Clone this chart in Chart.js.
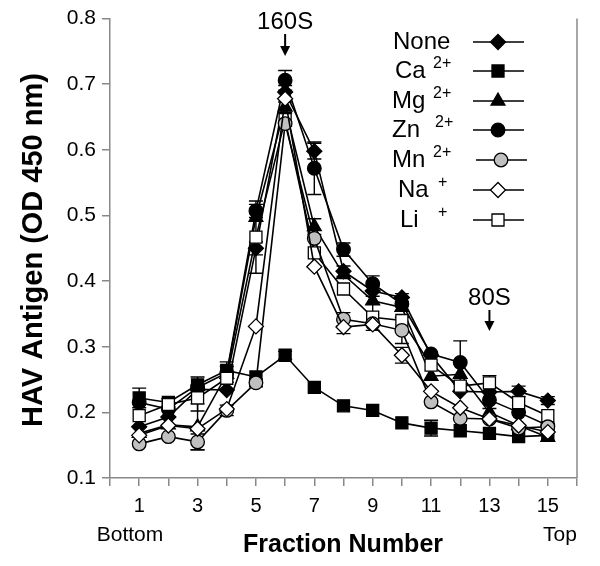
<!DOCTYPE html>
<html><head><meta charset="utf-8">
<script src="https://cdn.jsdelivr.net/npm/chart.js@4/dist/chart.umd.min.js"></script>
<style>html,body{margin:0;padding:0;background:#fff}#wrap{width:600px;height:566px}</style>
</head><body><div id="wrap"><canvas id="c" width="600" height="566"></canvas></div>
<script>
const fractions = [1,2,3,4,5,6,7,8,9,10,11,12,13,14,15];
const xTickLabels = [1,3,5,7,9,11,13,15];
const yTicks = [0.1,0.2,0.3,0.4,0.5,0.6,0.7,0.8];

const noneVals = [0.178,0.193,0.235,0.234,0.450,0.688,0.598,0.415,0.385,0.375,0.287,0.232,0.231,0.232,0.218];
const caVals   = [0.222,0.215,0.242,0.264,0.254,0.287,0.238,0.210,0.203,0.184,0.176,0.172,0.168,0.163,0.165];
const mgVals   = [0.168,0.181,0.178,0.258,0.497,0.665,0.483,0.410,0.370,0.360,0.255,0.258,0.200,0.180,0.162];
const znVals   = [0.215,0.205,0.238,0.260,0.507,0.706,0.572,0.448,0.396,0.365,0.289,0.276,0.219,0.200,0.180];
const mnVals   = [0.152,0.163,0.155,0.203,0.245,0.640,0.465,0.342,0.335,0.325,0.216,0.191,0.190,0.176,0.178];
const naVals   = [0.165,0.180,0.175,0.205,0.331,0.678,0.422,0.330,0.334,0.287,0.232,0.207,0.190,0.180,0.170];
const liVals   = [0.195,0.212,0.222,0.252,0.467,0.646,0.443,0.388,0.345,0.340,0.272,0.240,0.245,0.215,0.195];

const noneErr = [0,0,0,0,0.01,0.01,0.012,0.008,0.008,0.006,0,0,0.025,0.008,0.006];
const caErr   = [0.015,0.006,0.012,0.013,0,0.006,0,0,0,0,0.012,0,0,0,0];
const mgErr   = [0,0,0.035,0.012,0,0.008,0.012,0,0,0,0,0,0,0,0];
const znErr   = [0,0,0,0,0.01,0.015,0.04,0.01,0.012,0,0,0.033,0,0,0];
const mnErr   = [0,0,0.012,0.008,0.006,0,0,0.01,0,0.02,0,0,0,0,0];
const naErr   = [0,0,0,0,0,0,0,0.01,0,0.012,0,0,0,0,0];
const liErr   = [0,0,0.02,0,0.055,0.01,0,0,0.02,0,0,0,0,0,0];

const seriesNames = ['None','Ca','Mg','Zn','Mn','Na','Li'];
const seriesSup   = ['','2+','2+','2+','2+','+','+'];

const styles = [
  {ps:'rectRot', r:7.5, fill:'#000'},
  {ps:'rect', r:8.5, fill:'#000'},
  {ps:'triangle', r:8, fill:'#000'},
  {ps:'circle', r:6.8, fill:'#000'},
  {ps:'circle', r:6.8, fill:'#c0c0c0'},
  {ps:'rectRot', r:7.5, fill:'#fff'},
  {ps:'rect', r:8.5, fill:'#fff'}
];
const allVals = [noneVals,caVals,mgVals,znVals,mnVals,naVals,liVals];
const allErr = [noneErr,caErr,mgErr,znErr,mnErr,naErr,liErr];

const drawOrder = [5,4,6,2,0,3,1];
const datasets = drawOrder.map((i,k) => ({
  label: seriesNames[i],
  data: fractions.map((f,j)=>({x:f,y:allVals[i][j]})),
  errs: allErr[i],
  borderColor:'#000', borderWidth:1.6,
  pointStyle: styles[i].ps, pointRadius: styles[i].r, pointHoverRadius: styles[i].r,
  pointBackgroundColor: styles[i].fill, pointBorderColor:'#000', pointBorderWidth:1.3,
  tension:0, fill:false
}));

const FONT = '"Liberation Sans", Arial, sans-serif';

const deco = {
  id:'deco',
  beforeDatasetsDraw(chart){
    const ctx = chart.ctx, ys = chart.scales.y;
    ctx.save(); ctx.strokeStyle='#000'; ctx.lineWidth=1.4;
    chart.data.datasets.forEach((ds,di)=>{
      const meta = chart.getDatasetMeta(di);
      ds.data.forEach((p,j)=>{
        const e = ds.errs[j]; if(!e) return;
        const x = meta.data[j].x;
        const y1 = ys.getPixelForValue(p.y+e), y2 = ys.getPixelForValue(p.y-e);
        ctx.beginPath(); ctx.moveTo(x,y1); ctx.lineTo(x,y2);
        ctx.moveTo(x-7,y1); ctx.lineTo(x+7,y1);
        ctx.moveTo(x-7,y2); ctx.lineTo(x+7,y2); ctx.stroke();
      });
    });
    ctx.restore();
  },
  afterDraw(chart){
    const ctx = chart.ctx, a = chart.chartArea, xs = chart.scales.x;
    ctx.save();
    ctx.strokeStyle='#888'; ctx.lineWidth=1.5;
    ctx.beginPath(); ctx.moveTo(a.right, a.top); ctx.lineTo(a.right, a.bottom); ctx.stroke();
    ctx.fillStyle='#000';
    ctx.save(); ctx.translate(34, 250); ctx.rotate(-Math.PI/2);
    ctx.font='bold 29px '+FONT; ctx.textAlign='center'; ctx.textBaseline='middle';
    ctx.fillText('HAV Antigen (OD 450 nm)',0,0); ctx.restore();
    ctx.font='bold 25px '+FONT; ctx.textAlign='center'; ctx.textBaseline='middle';
    ctx.fillText('Fraction Number', 343, 545);
    ctx.font='21px '+FONT;
    ctx.fillText('Bottom', 130, 535);
    ctx.fillText('Top', 560, 535);
    const arrows = [{t:'160S', f:6, ty:22, a1:34, a2:56},{t:'80S', f:13, ty:298, a1:310, a2:331}];
    arrows.forEach(o=>{
      const x = xs.getPixelForValue(o.f);
      ctx.font='24px '+FONT; ctx.textAlign='center'; ctx.textBaseline='middle';
      ctx.fillText(o.t, x, o.ty);
      ctx.lineWidth=2; ctx.strokeStyle='#000';
      ctx.beginPath(); ctx.moveTo(x,o.a1); ctx.lineTo(x,o.a2-8); ctx.stroke();
      ctx.beginPath(); ctx.moveTo(x-5,o.a2-10); ctx.lineTo(x+5,o.a2-10); ctx.lineTo(x,o.a2); ctx.closePath(); ctx.fill();
    });
    const rows = [42,71,101,130,160,190,220];
    const txtX = [393,395,392,392,392,398,400];
    const supX = [0,433,433,435,433,438,438];
    for(let i=0;i<7;i++){
      const y = rows[i];
      ctx.fillStyle='#000'; ctx.textAlign='left'; ctx.textBaseline='middle';
      ctx.font='24px '+FONT; ctx.fillText(seriesNames[i], txtX[i], y);
      if(seriesSup[i]){ ctx.font='16px '+FONT; ctx.fillText(seriesSup[i], supX[i], y-7); }
      const off = i===4 ? 3 : 0;
      ctx.strokeStyle='#000'; ctx.lineWidth=1.6;
      ctx.beginPath(); ctx.moveTo(473+off,y); ctx.lineTo(524+off,y); ctx.stroke();
      ctx.fillStyle=styles[i].fill; ctx.strokeStyle='#000'; ctx.lineWidth=1.3;
      Chart.helpers.drawPoint(ctx,{pointStyle:styles[i].ps, radius:styles[i].r, borderWidth:1.3}, 498+off, y);
    }
    ctx.restore();
  }
};

new Chart(document.getElementById('c'), {
  type:'line',
  data:{datasets},
  options:{
    responsive:false, animation:false,
    layout:{padding:{top:18,right:23,left:0,bottom:0}},
    plugins:{legend:{display:false}, tooltip:{enabled:false}},
    scales:{
      x:{type:'linear', min:0, max:16,
        afterFit(s){ s.height = 88; },
        afterBuildTicks(s){ s.ticks = Array.from({length:17},(_,i)=>({value:i})); },
        ticks:{autoSkip:false, maxRotation:0, padding:8, color:'#000', font:{family:FONT,size:20},
          callback:(v)=> xTickLabels.includes(v) ? String(v) : ''},
        grid:{drawOnChartArea:false, drawTicks:true, tickLength:8, color:'#888', lineWidth:1.5},
        border:{display:true, color:'#888', width:1.5}
      },
      y:{type:'linear', min:0.1, max:0.8,
        afterFit(s){ s.width = 110; },
        afterBuildTicks(s){ s.ticks = yTicks.map(v=>({value:v})); },
        ticks:{padding:6, color:'#000', font:{family:FONT,size:21}, callback:(v)=>v.toFixed(1)},
        grid:{drawOnChartArea:false, drawTicks:true, tickLength:8, color:'#888', lineWidth:1.5},
        border:{display:true, color:'#888', width:1.5}
      }
    }
  },
  plugins:[deco]
});
</script></body></html>
